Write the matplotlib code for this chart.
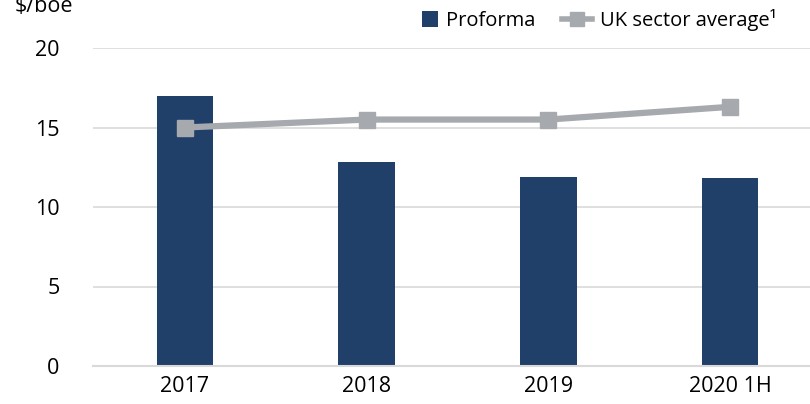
import matplotlib
matplotlib.use("Agg")
import matplotlib.pyplot as plt
from matplotlib.lines import Line2D
from matplotlib.patches import Patch, Rectangle
from matplotlib.legend_handler import HandlerPatch

categories = ["2017", "2018", "2019", "2020 1H"]
proforma = [17.0, 12.8, 11.9, 11.8]
uk_avg = [15.0, 15.5, 15.5, 16.3]
yticks = [0, 5, 10, 15, 20]

plt.rcParams['font.family'] = ['Open Sans', 'DejaVu Sans']

fig = plt.figure(figsize=(8.10, 4.04), dpi=100)
ax = fig.add_axes([93/810, 1 - 366/404, (810-93)/810, (366-48)/404])

bar_color = "#203F69"
line_color = "#A6A9AD"
x = list(range(len(categories)))
ax.bar(x, proforma, width=0.31, color=bar_color, zorder=2)
ax.plot(x, uk_avg, color=line_color, lw=4.5, marker="s", markersize=11,
        zorder=3, solid_capstyle="butt")

ax.set_ylim(0, 20)
ax.set_xlim(-0.506, 3.44)
ax.set_yticks(yticks)
ax.set_xticks(x)
ax.set_xticklabels(categories)
ax.grid(axis="y", color="#D9D9D9", lw=1.2, zorder=0)
ax.set_axisbelow(True)
for s in ["top", "right", "left"]:
    ax.spines[s].set_visible(False)
ax.spines["bottom"].set_color("#D9D9D9")
ax.spines["bottom"].set_linewidth(1.5)
ax.tick_params(axis="both", length=0, labelsize=15.5, colors="#000000")
ax.tick_params(axis="y", pad=24)
ax.tick_params(axis="x", pad=7)

fig.text(15/810, 1 - 6/404, "$/boe", fontsize=15.5, ha="left", va="center")


def square_patch(legend, orig_handle, xdescent, ydescent, width, height, fontsize):
    s = 12
    return Rectangle((-xdescent + width - s, -ydescent + (height - s) / 2), s, s)


handles = [Patch(facecolor=bar_color, edgecolor="none"),
           Line2D([0], [0], color=line_color, lw=4, marker="s", markersize=10)]
fig.legend(handles, ["Proforma", "UK sector average¹"], loc="center right",
           bbox_to_anchor=(795/810, 1 - 20/404), ncol=2, frameon=False,
           fontsize=14.5, handlelength=1.5, handletextpad=0.4, columnspacing=1.3,
           handler_map={Patch: HandlerPatch(patch_func=square_patch)})

fig.savefig("out.png", dpi=100)
